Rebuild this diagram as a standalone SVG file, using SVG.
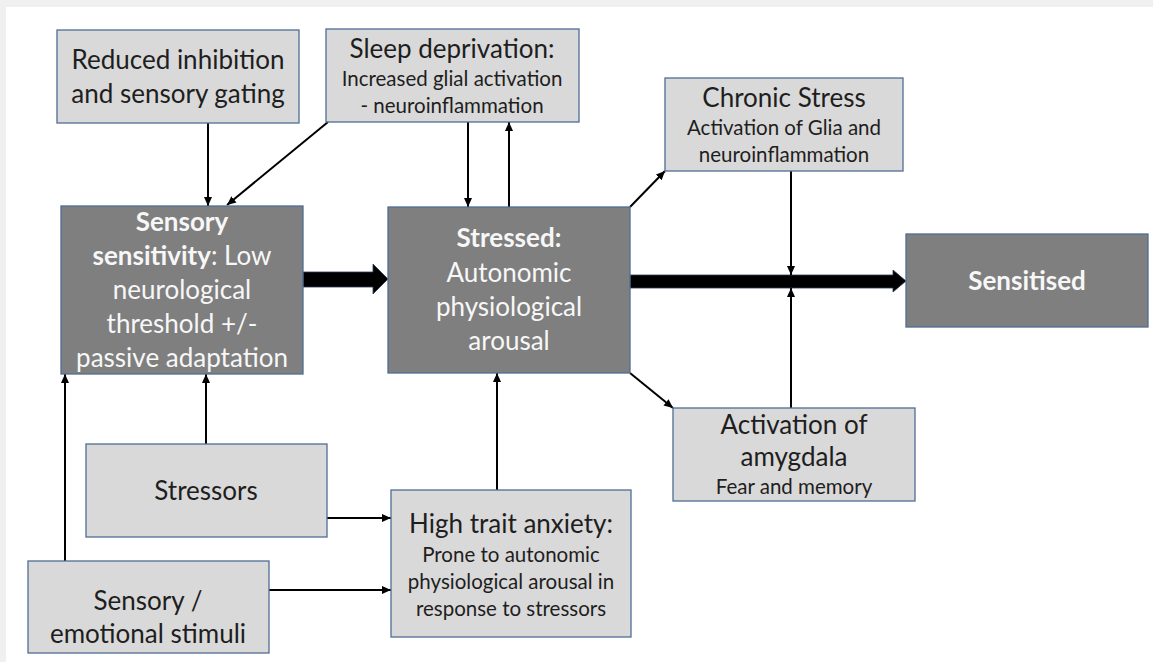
<svg xmlns="http://www.w3.org/2000/svg" width="1153" height="662" viewBox="0 0 1153 662">
<style>
.lt{fill:#d9d9d9;stroke:#4f6d94;stroke-width:1.3}
.dk{fill:#7f7f7f;stroke:#4f6d94;stroke-width:1.3}
text{font-family:Lato,"Open Sans","Liberation Sans",sans-serif;text-anchor:middle}
.tl{fill:#1e1e1e;font-size:26px}
.ts{fill:#1e1e1e;font-size:20.5px}
.tw{fill:#f7f7f7;font-size:26px}
.b{font-weight:bold}
.c{stroke:#000;stroke-width:2;fill:none;marker-end:url(#ah)}
.big{fill:#000;stroke:#2c3e5c;stroke-width:0.8}
</style>
<defs>
<marker id="ah" markerUnits="userSpaceOnUse" markerWidth="10" markerHeight="10" refX="9" refY="5" orient="auto">
<path d="M0,1 L9,5 L0,9 Z" fill="#000"/>
</marker>
</defs>
<rect x="0" y="0" width="1153" height="662" fill="#f0f0f0"/>
<rect x="6" y="7" width="1147" height="655" fill="#ffffff"/>

<g id="connectors">
<polygon class="big" points="303,272 373,272 373,264 388,279 373,294 373,287 303,287"/>
<polygon class="big" points="630,275 893,275 893,270 906,281 893,292 893,288 630,288"/>
<line class="c" x1="208" y1="123" x2="208" y2="206"/>
<line class="c" x1="328" y1="122" x2="227" y2="205"/>
<line class="c" x1="468" y1="122" x2="468" y2="207"/>
<line class="c" x1="509" y1="207" x2="509" y2="122"/>
<line class="c" x1="630" y1="207" x2="665" y2="171"/>
<line class="c" x1="630" y1="373" x2="673" y2="408"/>
<line class="c" x1="791" y1="171" x2="791" y2="275"/>
<line class="c" x1="791" y1="408" x2="791" y2="288"/>
<line class="c" x1="206" y1="444" x2="206" y2="374"/>
<line class="c" x1="65" y1="561" x2="65" y2="374"/>
<line class="c" x1="497" y1="490" x2="497" y2="373"/>
<line class="c" x1="327" y1="518" x2="391" y2="518"/>
<line class="c" x1="269" y1="590" x2="391" y2="590"/>
</g>

<g id="reduced-inhibition">
<rect class="lt" x="57" y="30" width="242" height="93"/>
<text class="tl" x="178" y="69">Reduced inhibition</text>
<text class="tl" x="178" y="103">and sensory gating</text>
</g>

<g id="sleep-deprivation">
<rect class="lt" x="326" y="29" width="253" height="93"/>
<text class="tl" x="452" y="58">Sleep deprivation:</text>
<text class="ts" x="452" y="86">Increased glial activation</text>
<text class="ts" x="452" y="113">- neuroinflammation</text>
</g>

<g id="chronic-stress">
<rect class="lt" x="665" y="78" width="238" height="93"/>
<text class="tl" x="784" y="107">Chronic Stress</text>
<text class="ts" x="784" y="135">Activation of Glia and</text>
<text class="ts" x="784" y="162">neuroinflammation</text>
</g>

<g id="sensory-sensitivity">
<rect class="dk" x="61" y="206" width="242" height="168"/>
<text class="tw b" x="182" y="231">Sensory</text>
<text class="tw" x="182" y="265"><tspan class="b">sensitivity</tspan>: Low</text>
<text class="tw" x="182" y="299">neurological</text>
<text class="tw" x="182" y="333">threshold +/-</text>
<text class="tw" x="182" y="367">passive adaptation</text>
</g>

<g id="stressed">
<rect class="dk" x="388" y="207" width="242" height="166"/>
<text class="tw b" x="509" y="247">Stressed:</text>
<text class="tw" x="509" y="282">Autonomic</text>
<text class="tw" x="509" y="316">physiological</text>
<text class="tw" x="509" y="350">arousal</text>
</g>

<g id="sensitised">
<rect class="dk" x="906" y="234" width="242" height="93"/>
<text class="tw b" x="1027" y="290">Sensitised</text>
</g>

<g id="amygdala">
<rect class="lt" x="673" y="408" width="242" height="93"/>
<text class="tl" x="794" y="434">Activation of</text>
<text class="tl" x="794" y="466">amygdala</text>
<text class="ts" x="794" y="494">Fear and memory</text>
</g>

<g id="stressors">
<rect class="lt" x="86" y="444" width="241" height="93"/>
<text class="tl" x="206" y="500">Stressors</text>
</g>

<g id="high-trait-anxiety">
<rect class="lt" x="391" y="490" width="240" height="147"/>
<text class="tl" x="511" y="533">High trait anxiety:</text>
<text class="ts" x="511" y="562">Prone to autonomic</text>
<text class="ts" x="511" y="589">physiological arousal in</text>
<text class="ts" x="511" y="616">response to stressors</text>
</g>

<g id="sensory-stimuli">
<rect class="lt" x="28" y="561" width="241" height="92"/>
<text class="tl" x="148" y="610">Sensory /</text>
<text class="tl" x="148" y="643">emotional stimuli</text>
</g>
</svg>
